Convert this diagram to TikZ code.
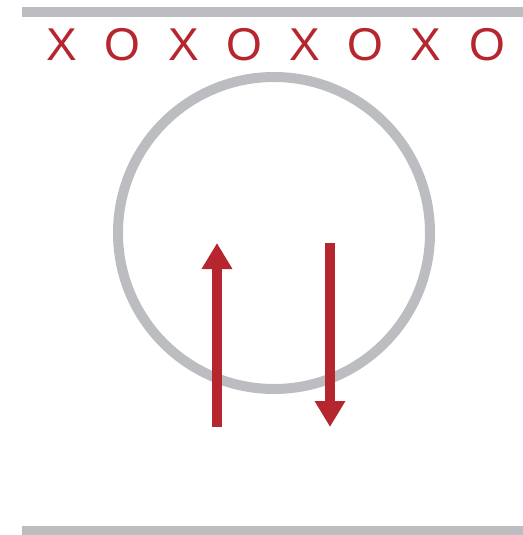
\documentclass[tikz,border=0pt]{standalone}
\usepackage{fontspec}
\setmainfont{Liberation Sans}
\usetikzlibrary{arrows.meta}
\definecolor{ringgray}{HTML}{BCBDC1}
\definecolor{markred}{HTML}{B5262E}

\begin{document}
\begin{tikzpicture}[x=0.75pt, y=-0.75pt,
  rail/.style={draw=ringgray, line width=7.5pt},
  letter/.style={text=markred, inner sep=0pt, font=\fontsize{34.5}{40}\selectfont},
  flow/.style={draw=markred, line width=7.5pt, -{Triangle[width=21.75pt, length=19.5pt]}}]
  \useasboundingbox (0,0) rectangle (523,535);
  % top and bottom rails
  \draw[rail] (22,12) -- (523,12);
  \draw[rail] (22,530.5) -- (523,530.5);
  % row of letters
  \foreach \i/\t in {0/X,1/O,2/X,3/O,4/X,5/O,6/X,7/O}
    \node[letter] (m\i) at (62+60.7*\i,45) {\t};
  % ring
  \node[draw=ringgray, line width=7.5pt, circle, minimum size=234pt, inner sep=0pt] (ring) at (274,233) {};
  % arrows
  \coordinate (upfoot) at (217,427);
  \coordinate (uptip) at (217,243);
  \coordinate (downtop) at (330,243);
  \coordinate (downtip) at (330,427);
  \draw[flow] (upfoot) -- (uptip);
  \draw[flow] (downtop) -- (downtip);
\end{tikzpicture}
\end{document}
